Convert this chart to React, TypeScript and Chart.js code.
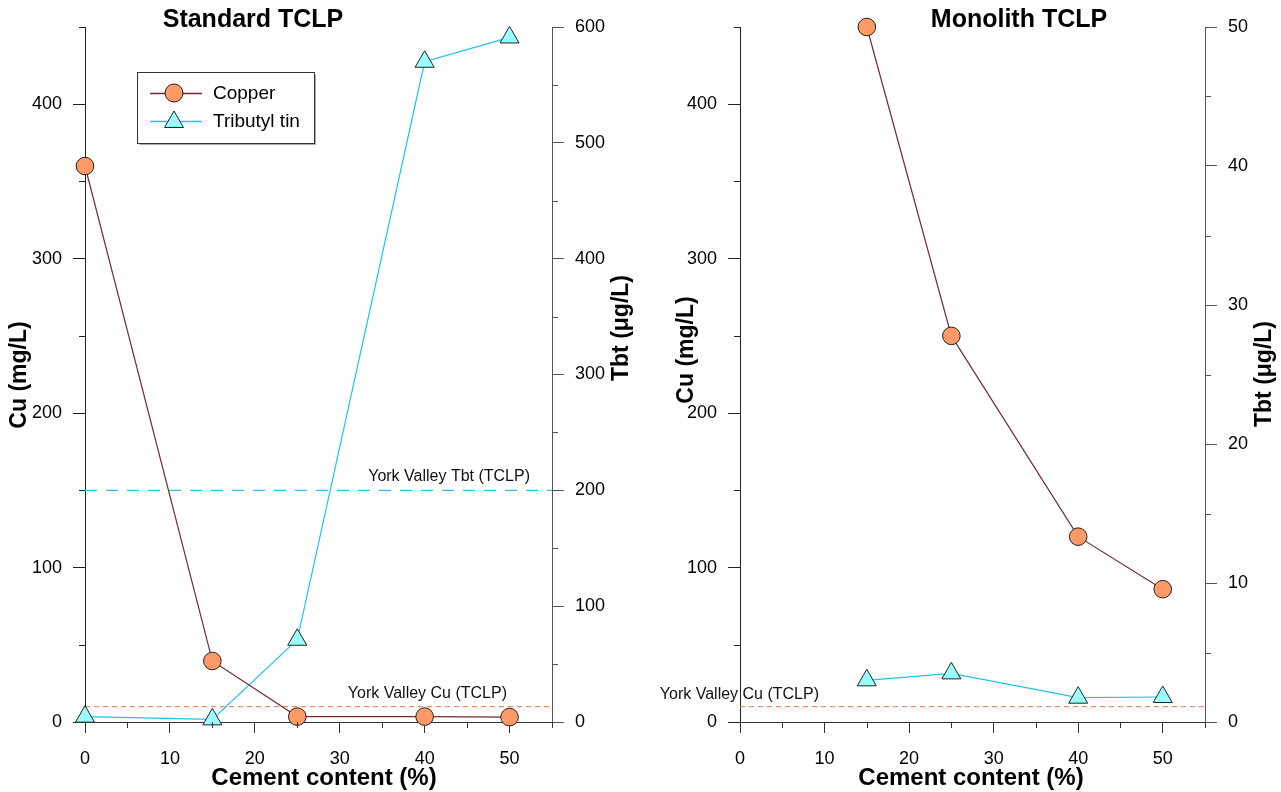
import React, { useEffect, useRef } from "react";
import { Chart, registerables } from "chart.js";

Chart.register(...registerables);

// ---------- data ----------
const cementStd = [0, 15, 25, 40, 50];
const copperStd = [360, 39.5, 3.5, 3.5, 3.2];
const tbtStd = [4.6, 2.3, 71, 570, 591];

const cementMono = [15, 25, 40, 50];
const copperMono = [450, 250, 120, 86];
const tbtMono = [3.0, 3.5, 1.75, 1.8];

const xTicks = [0, 10, 20, 30, 40, 50];
const xMinor = [5, 15, 25, 35, 45, 55];
const cuTicks = [0, 100, 200, 300, 400];
const cuMinor = [50, 150, 250, 350, 450];
const tbtStdTicks = [0, 100, 200, 300, 400, 500, 600];
const tbtStdMinor = [50, 150, 250, 350, 450, 550];
const tbtMonoTicks = [0, 10, 20, 30, 40, 50];
const tbtMonoMinor = [5, 15, 25, 35, 45];

const xMax = 55;
const cuMax = 450;
const tbtStdMax = 600;
const tbtMonoMax = 50;

const yorkValleyCu = 10; // mg/L
const yorkValleyTbt = 200; // µg/L

const seriesNames = ["Copper", "Tributyl tin"];

// ---------- styles ----------
const FONT = "'Liberation Sans', Arial, Helvetica, sans-serif";
const CU_LINE = "#6E2E2E";
const CU_FILL = "#FF9A66";
const TBT_LINE = "#1EC3F0";
const TBT_FILL = "#99FFFF";
const CU_REF = "#F08A66";
const TBT_REF = "#22C6F2";
const MARKER_BORDER = "#222";

type RefLine = {
  axis: "yCu" | "yTbt";
  value: number;
  label: string;
  color: string;
  dash: number[];
  labelRight: number;
  labelDy: number;
};

type Panel = {
  title: string;
  titleX: number;
  xTitleX: number;
  cuX: number[];
  cu: number[];
  tbtX: number[];
  tbt: number[];
  tbtMax: number;
  tbtTicks: number[];
  tbtMinor: number[];
  leftWidth: number;
  rightWidth: number;
  cuTitleX: number;
  cuTitleY: number;
  tbtTitleX: number;
  tbtTitleY: number;
  refs: RefLine[];
  legend: boolean;
  width: number;
};

const panels: Panel[] = [
  {
    title: "Standard TCLP",
    titleX: 253,
    xTitleX: 324,
    cuX: cementStd,
    cu: copperStd,
    tbtX: cementStd,
    tbt: tbtStd,
    tbtMax: tbtStdMax,
    tbtTicks: tbtStdTicks,
    tbtMinor: tbtStdMinor,
    leftWidth: 85,
    rightWidth: 88,
    cuTitleX: 20,
    cuTitleY: 375,
    tbtTitleX: 622,
    tbtTitleY: 328,
    refs: [
      { axis: "yTbt", value: yorkValleyTbt, label: "York Valley Tbt (TCLP)", color: TBT_REF, dash: [12, 9], labelRight: 530, labelDy: -14 },
      { axis: "yCu", value: yorkValleyCu, label: "York Valley Cu (TCLP)", color: CU_REF, dash: [5, 4], labelRight: 507, labelDy: -13 },
    ],
    legend: true,
    width: 640,
  },
  {
    title: "Monolith TCLP",
    titleX: 379,
    xTitleX: 331,
    cuX: cementMono,
    cu: copperMono,
    tbtX: cementMono,
    tbt: tbtMono,
    tbtMax: tbtMonoMax,
    tbtTicks: tbtMonoTicks,
    tbtMinor: tbtMonoMinor,
    leftWidth: 100,
    rightWidth: 76,
    cuTitleX: 47,
    cuTitleY: 350,
    tbtTitleX: 625,
    tbtTitleY: 374,
    refs: [
      { axis: "yCu", value: yorkValleyCu, label: "York Valley Cu (TCLP)", color: CU_REF, dash: [5, 4], labelRight: 179, labelDy: -12 },
    ],
    legend: false,
    width: 641,
  },
];

function drawTriangle(ctx: CanvasRenderingContext2D, x: number, y: number, r: number) {
  ctx.beginPath();
  let rad = 0;
  ctx.moveTo(x + Math.sin(rad) * r, y - Math.cos(rad) * r);
  rad += (2 * Math.PI) / 3;
  ctx.lineTo(x + Math.sin(rad) * r, y - Math.cos(rad) * r);
  rad += (2 * Math.PI) / 3;
  ctx.lineTo(x + Math.sin(rad) * r, y - Math.cos(rad) * r);
  ctx.closePath();
}

function makeDecor(p: Panel) {
  return {
    id: "decor",
    afterDraw(chart: any) {
      const ctx: CanvasRenderingContext2D = chart.ctx;
      const area = chart.chartArea;
      const xs = chart.scales.x;
      const yc = chart.scales.yCu;
      const yt = chart.scales.yTbt;
      ctx.save();
      // minor ticks
      ctx.lineWidth = 1;
      ctx.strokeStyle = "#333";
      for (const v of xMinor) {
        const px = Math.round(xs.getPixelForValue(v)) + 0.5;
        ctx.beginPath();
        ctx.moveTo(px, area.bottom);
        ctx.lineTo(px, area.bottom + 6);
        ctx.stroke();
      }
      ctx.strokeStyle = "#222";
      for (const v of cuMinor) {
        const py = Math.round(yc.getPixelForValue(v)) + 0.5;
        ctx.beginPath();
        ctx.moveTo(area.left, py);
        ctx.lineTo(area.left - 6, py);
        ctx.stroke();
      }
      ctx.strokeStyle = "#555";
      for (const v of p.tbtMinor) {
        const py = Math.round(yt.getPixelForValue(v)) + 0.5;
        ctx.beginPath();
        ctx.moveTo(area.right, py);
        ctx.lineTo(area.right + 6, py);
        ctx.stroke();
      }

      // reference line labels
      ctx.fillStyle = "#111";
      ctx.font = `16px ${FONT}`;
      ctx.textAlign = "right";
      ctx.textBaseline = "middle";
      for (const r of p.refs) {
        const sc = r.axis === "yCu" ? yc : yt;
        ctx.fillText(r.label, r.labelRight, sc.getPixelForValue(r.value) + r.labelDy);
      }

      // title
      ctx.fillStyle = "#000";
      ctx.font = `bold 25px ${FONT}`;
      ctx.textAlign = "center";
      ctx.fillText(p.title, p.titleX, 20);

      // x title
      ctx.font = `bold 24px ${FONT}`;
      ctx.fillText("Cement content (%)", p.xTitleX, 778);

      // y titles (rotated, reading bottom to top)
      ctx.font = `bold 23px ${FONT}`;
      ctx.save();
      ctx.translate(p.cuTitleX, p.cuTitleY);
      ctx.rotate(-Math.PI / 2);
      ctx.fillText("Cu (mg/L)", 0, 0);
      ctx.restore();
      ctx.save();
      ctx.translate(p.tbtTitleX, p.tbtTitleY);
      ctx.rotate(-Math.PI / 2);
      ctx.fillText("Tbt (μg/L)", 0, 0);
      ctx.restore();

      // legend
      if (p.legend) {
        const bx = 137.5, by = 72.5, bw = 177, bh = 71;
        ctx.fillStyle = "#fff";
        ctx.fillRect(bx, by, bw, bh);
        ctx.strokeStyle = "#aaa";
        ctx.beginPath();
        ctx.moveTo(bx + 2, by + bh + 1);
        ctx.lineTo(bx + bw + 1, by + bh + 1);
        ctx.lineTo(bx + bw + 1, by + 2);
        ctx.stroke();
        ctx.strokeStyle = "#333";
        ctx.strokeRect(bx, by, bw, bh);
        const rows = [
          { y: 93, line: CU_LINE, fill: CU_FILL, shape: "circle", text: seriesNames[0] },
          { y: 121, line: TBT_LINE, fill: TBT_FILL, shape: "triangle", text: seriesNames[1] },
        ];
        for (const row of rows) {
          ctx.strokeStyle = row.line;
          ctx.lineWidth = 1.5;
          ctx.beginPath();
          ctx.moveTo(150, row.y + 0.5);
          ctx.lineTo(202, row.y + 0.5);
          ctx.stroke();
          ctx.lineWidth = 1;
          ctx.fillStyle = row.fill;
          ctx.strokeStyle = MARKER_BORDER;
          if (row.shape === "circle") {
            ctx.beginPath();
            ctx.arc(174, row.y, 9, 0, Math.PI * 2);
          } else {
            drawTriangle(ctx, 174, row.y + 1, 11);
          }
          ctx.fill();
          ctx.stroke();
          ctx.fillStyle = "#000";
          ctx.font = `19px ${FONT}`;
          ctx.textAlign = "left";
          ctx.textBaseline = "middle";
          ctx.fillText(row.text, 213, row.y + 1);
        }
      }
      ctx.restore();
    },
  };
}

function buildConfig(p: Panel): any {
  const tickFont = { family: FONT, size: 18 };
  const refDatasets = p.refs.map((r) => ({
    label: r.label,
    data: [
      { x: 0, y: r.value },
      { x: xMax, y: r.value },
    ],
    yAxisID: r.axis,
    borderColor: r.color,
    borderWidth: 1.3,
    borderDash: r.dash,
    pointRadius: 0,
    order: 5,
    clip: false,
  }));
  return {
    type: "line",
    data: {
      datasets: [
        ...refDatasets,
        {
          label: seriesNames[1],
          data: p.tbtX.map((x, i) => ({ x, y: p.tbt[i] })),
          yAxisID: "yTbt",
          borderColor: TBT_LINE,
          borderWidth: 1.2,
          pointStyle: "triangle",
          pointRadius: 11,
          pointBackgroundColor: TBT_FILL,
          pointBorderColor: MARKER_BORDER,
          pointBorderWidth: 1,
          order: 2,
          clip: false,
        },
        {
          label: seriesNames[0],
          data: p.cuX.map((x, i) => ({ x, y: p.cu[i] })),
          yAxisID: "yCu",
          borderColor: CU_LINE,
          borderWidth: 1.2,
          pointStyle: "circle",
          pointRadius: 8.8,
          pointBackgroundColor: CU_FILL,
          pointBorderColor: MARKER_BORDER,
          pointBorderWidth: 1,
          order: 1,
          clip: false,
        },
      ],
    },
    options: {
      responsive: false,
      maintainAspectRatio: false,
      animation: false,
      events: [],
      layout: { padding: { top: 27, left: 0, right: 0, bottom: 0 } },
      plugins: {
        legend: { display: false },
        tooltip: { enabled: false },
        title: { display: false },
      },
      scales: {
        x: {
          type: "linear",
          position: "bottom",
          min: 0,
          max: xMax,
          afterBuildTicks: (s: any) => {
            s.ticks = xTicks.map((v) => ({ value: v }));
          },
          afterFit: (s: any) => {
            s.height = 70;
          },
          grid: { display: true, drawOnChartArea: false, drawTicks: true, tickLength: 11, color: "#333", tickColor: "#333" },
          border: { display: true, color: "#333", width: 1 },
          ticks: { font: tickFont, color: "#000", padding: 15, autoSkip: false, maxRotation: 0 },
        },
        yCu: {
          type: "linear",
          position: "left",
          min: 0,
          max: cuMax,
          afterBuildTicks: (s: any) => {
            s.ticks = cuTicks.map((v) => ({ value: v }));
          },
          afterFit: (s: any) => {
            s.width = p.leftWidth;
          },
          grid: { display: true, drawOnChartArea: false, drawTicks: true, tickLength: 12, color: "#222", tickColor: "#222" },
          border: { display: true, color: "#222", width: 1 },
          ticks: { font: tickFont, color: "#000", padding: 11, autoSkip: false },
        },
        yTbt: {
          type: "linear",
          position: "right",
          min: 0,
          max: p.tbtMax,
          afterBuildTicks: (s: any) => {
            s.ticks = p.tbtTicks.map((v) => ({ value: v }));
          },
          afterFit: (s: any) => {
            s.width = p.rightWidth;
          },
          grid: { display: true, drawOnChartArea: false, drawTicks: true, tickLength: 12, color: "#555", tickColor: "#555" },
          border: { display: true, color: "#555", width: 1 },
          ticks: { font: tickFont, color: "#000", padding: 11, autoSkip: false },
        },
      },
    },
    plugins: [makeDecor(p)],
  };
}

function PanelChart({ panel, left }: { panel: Panel; left: number }) {
  const ref = useRef<HTMLCanvasElement | null>(null);
  useEffect(() => {
    if (!ref.current) return;
    const chart = new Chart(ref.current, buildConfig(panel));
    return () => chart.destroy();
  }, [panel]);
  return (
    <canvas
      ref={ref}
      width={panel.width}
      height={792}
      style={{ position: "absolute", left, top: 0, width: panel.width, height: 792, display: "block" }}
    />
  );
}

export default function App() {
  return (
    <div style={{ position: "fixed", left: 0, top: 0, width: 1281, height: 792, background: "#fff", overflow: "hidden" }}>
      <PanelChart panel={panels[0]} left={0} />
      <PanelChart panel={panels[1]} left={640} />
    </div>
  );
}
